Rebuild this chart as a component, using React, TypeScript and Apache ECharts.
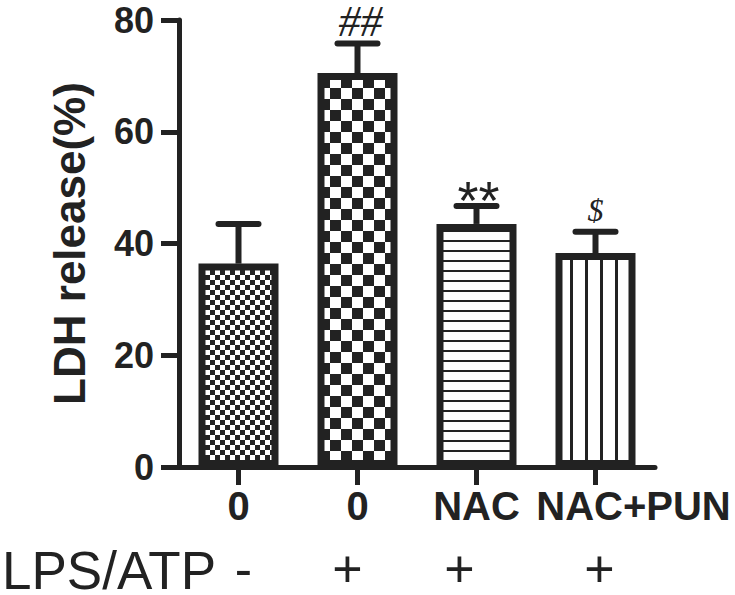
import React, { useEffect, useRef } from 'react';
import * as echarts from 'echarts';

// ---- data ----
const categories = ['0', '0', 'NAC', 'NAC+PUN'];
const lpsAtp = ['-', '+', '+', '+'];
const meanValues = [36.4, 70.5, 43.5, 38.3];
const errorValues = [7.1, 5.3, 3.2, 3.8];
const significance = ['', '##', '**', '$'];
const yTicks = [0, 20, 40, 60, 80];
const rowTitle = 'LPS/ATP';
const yTitle = 'LDH release(%)';

// ---- styles ----
const INK = '#222222';
const SANS = '"Liberation Sans", Arial, Helvetica, sans-serif';
const SERIF = '"Liberation Serif", "Times New Roman", serif';

const annotationStyles = [
  { fontSize: 40, fontFamily: SANS, fontStyle: 'normal', dx: 0, dy: -20 },
  { fontSize: 44, fontFamily: SERIF, fontStyle: 'italic', dx: 3, dy: -22 },
  { fontSize: 54, fontFamily: SANS, fontStyle: 'normal', dx: 2, dy: -6 },
  { fontSize: 32, fontFamily: SERIF, fontStyle: 'italic', dx: 0, dy: -22 },
];
// horizontal shifts (px) of the category labels, as in the original figure
const catLabelShift = [0, 0, 0, 38];
const rowLabelShift = [5, -10, -17, 4];

function makeCanvas(w: number, h: number, draw: (g: CanvasRenderingContext2D) => void) {
  const c = document.createElement('canvas');
  c.width = w;
  c.height = h;
  const g = c.getContext('2d')!;
  g.fillStyle = '#ffffff';
  g.fillRect(0, 0, w, h);
  g.fillStyle = INK;
  draw(g);
  return { image: c, repeat: 'repeat', imageWidth: w, imageHeight: h } as any;
}
function checker(cell: number) {
  return makeCanvas(cell * 2, cell * 2, (g) => {
    g.fillRect(0, 0, cell, cell);
    g.fillRect(cell, cell, cell, cell);
  });
}
function hLines(period: number, thick: number) {
  return makeCanvas(4, period, (g) => g.fillRect(0, 0, 4, thick));
}
function vLines(period: number, thick: number) {
  return makeCanvas(period, 4, (g) => g.fillRect(0, 0, thick, 4));
}

function padFor(shift: number): number[] {
  return shift >= 0 ? [0, 0, 0, shift * 2] : [0, -shift * 2, 0, 0];
}

export default function App() {
  const ref = useRef<HTMLDivElement>(null);

  useEffect(() => {
    const chart = echarts.init(ref.current!, null, { renderer: 'svg' });
    const patterns = [checker(5), checker(11), hLines(10, 2), vLines(15, 3)];

    const catRich: any = {};
    categories.forEach((_, i) => {
      catRich['c' + i] = {
        fontSize: 40,
        fontWeight: 'bold',
        fontFamily: SANS,
        color: INK,
        lineHeight: 40,
        padding: padFor(catLabelShift[i]),
      };
    });
    const rowRich: any = {};
    lpsAtp.forEach((_, i) => {
      rowRich['r' + i] = {
        fontSize: 52,
        fontWeight: 'normal',
        fontFamily: SANS,
        color: INK,
        lineHeight: 40,
        padding: padFor(rowLabelShift[i]),
      };
    });

    const capHalf = 20;

    const option: any = {
      animation: false,
      backgroundColor: '#ffffff',
      grid: { left: 179, right: 80, top: 20, bottom: 123, containLabel: false },
      xAxis: [
        {
          type: 'category',
          data: categories,
          position: 'bottom',
          axisLine: { show: true, lineStyle: { color: INK, width: 5 } },
          axisTick: { show: true, alignWithLabel: true, length: 18, lineStyle: { color: INK, width: 5 } },
          axisLabel: {
            interval: 0,
            margin: 39,
            verticalAlign: 'middle',
            fontSize: 40,
            fontWeight: 'bold',
            fontFamily: SANS,
            color: INK,
            formatter: (v: string, i: number) => `{c${i}|${v}}`,
            rich: catRich,
          },
          splitLine: { show: false },
        },
        {
          type: 'category',
          data: lpsAtp,
          position: 'bottom',
          axisLine: { show: false },
          axisTick: { show: false },
          axisLabel: {
            interval: 0,
            margin: 102,
            verticalAlign: 'middle',
            fontSize: 52,
            fontFamily: SANS,
            color: INK,
            formatter: (v: string, i: number) => `{r${i}|${v}}`,
            rich: rowRich,
          },
          splitLine: { show: false },
        },
      ],
      yAxis: {
        type: 'value',
        min: yTicks[0],
        max: yTicks[yTicks.length - 1],
        interval: yTicks[1] - yTicks[0],
        axisLine: { show: true, lineStyle: { color: INK, width: 5 } },
        axisTick: { show: true, length: 18, lineStyle: { color: INK, width: 5 } },
        axisLabel: {
          margin: 25,
          fontSize: 36,
          fontWeight: 'bold',
          fontFamily: SANS,
          color: INK,
        },
        splitLine: { show: false },
        name: yTitle,
        nameLocation: 'middle',
        nameGap: 88,
        nameTextStyle: { fontSize: 44, fontWeight: 'bold', fontFamily: SANS, color: INK, lineHeight: 44 },
      },
      graphic: [
        {
          type: 'text',
          left: 2,
          top: 544,
          style: { text: rowTitle, fontSize: 53, fontFamily: SANS, fill: INK, lineHeight: 40 },
        },
      ],
      series: [
        {
          type: 'bar',
          xAxisIndex: 0,
          barWidth: 80,
          itemStyle: { borderColor: INK, borderWidth: 7 },
          data: meanValues.map((v, i) => ({ value: v, itemStyle: { color: patterns[i] } })),
          z: 2,
        },
        {
          type: 'custom',
          xAxisIndex: 0,
          z: 3,
          encode: { x: 0, y: [1, 2] },
          data: meanValues.map((v, i) => [i, v, v + errorValues[i]]),
          renderItem: (params: any, api: any) => {
            const idx = api.value(0);
            const base = api.coord([idx, api.value(1)]);
            const top = api.coord([idx, api.value(2)]);
            const st = annotationStyles[idx];
            const children: any[] = [
              {
                type: 'line',
                shape: { x1: base[0], y1: base[1], x2: top[0], y2: top[1] },
                style: { stroke: INK, lineWidth: 6 },
              },
              {
                type: 'line',
                shape: { x1: top[0] - capHalf, y1: top[1], x2: top[0] + capHalf, y2: top[1] },
                style: { stroke: INK, lineWidth: 6, lineCap: 'round' },
              },
            ];
            if (significance[idx]) {
              children.push({
                type: 'text',
                x: top[0] + st.dx,
                y: top[1] + st.dy,
                style: {
                  text: significance[idx],
                  fill: INK,
                  fontSize: st.fontSize,
                  fontFamily: st.fontFamily,
                  fontStyle: st.fontStyle,
                  align: 'center',
                  verticalAlign: 'middle',
                },
              });
            }
            return { type: 'group', children };
          },
        },
      ],
    };

    chart.setOption(option);
    return () => chart.dispose();
  }, []);

  return (
    <div
      ref={ref}
      style={{ position: 'absolute', left: 0, top: 0, width: 735, height: 595, background: '#fff' }}
    />
  );
}
